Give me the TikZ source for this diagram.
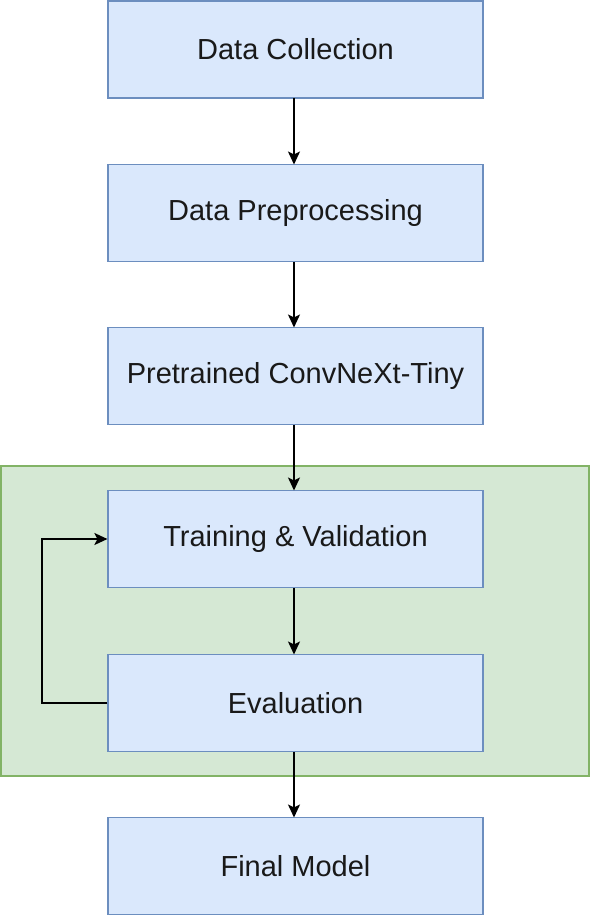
\documentclass[tikz,border=0pt]{standalone}
\usepackage{fontspec}
\setmainfont{Liberation Sans}
\usetikzlibrary{arrows.meta}
\definecolor{bfill}{HTML}{DAE8FC}
\definecolor{bdraw}{HTML}{6C8EBF}
\definecolor{gfill}{HTML}{D5E8D4}
\definecolor{gdraw}{HTML}{82B366}
\tikzset{
  stepbox/.style={draw=bdraw, fill=bfill, line width=1.2pt, minimum width=375pt, minimum height=97pt, inner sep=0pt, font=\fontsize{29}{34}\selectfont, text=black!90},
  conn/.style={draw=black, line width=1.6pt, -{Stealth[length=13pt,width=12pt,inset=3pt]}}
}
\begin{document}
\begin{tikzpicture}[x=1pt,y=-1pt]
\useasboundingbox (0,0) rectangle (590,916);
\draw[draw=gdraw, fill=gfill, line width=1.2pt] (1,466) rectangle (589,776);
\node[stepbox] (a) at (295.5,49.5) {Data Collection};
\node[stepbox] (b) at (295.5,213) {Data Preprocessing};
\node[stepbox] (c) at (295.5,376) {Pretrained ConvNeXt-Tiny};
\node[stepbox] (d) at (295.5,539) {Training \& Validation};
\node[stepbox] (e) at (295.5,703) {Evaluation};
\node[stepbox] (f) at (295.5,866) {Final Model};
\draw[conn] (294,98) -- (294,164.5);
\draw[conn] (294,262) -- (294,327.5);
\draw[conn] (294,425) -- (294,490.5);
\draw[conn] (294,588) -- (294,654.5);
\draw[conn] (294,752) -- (294,817.5);
\draw[conn] (e.west) -- (42,703) -- (42,539) -- (d.west);
\end{tikzpicture}
\end{document}
